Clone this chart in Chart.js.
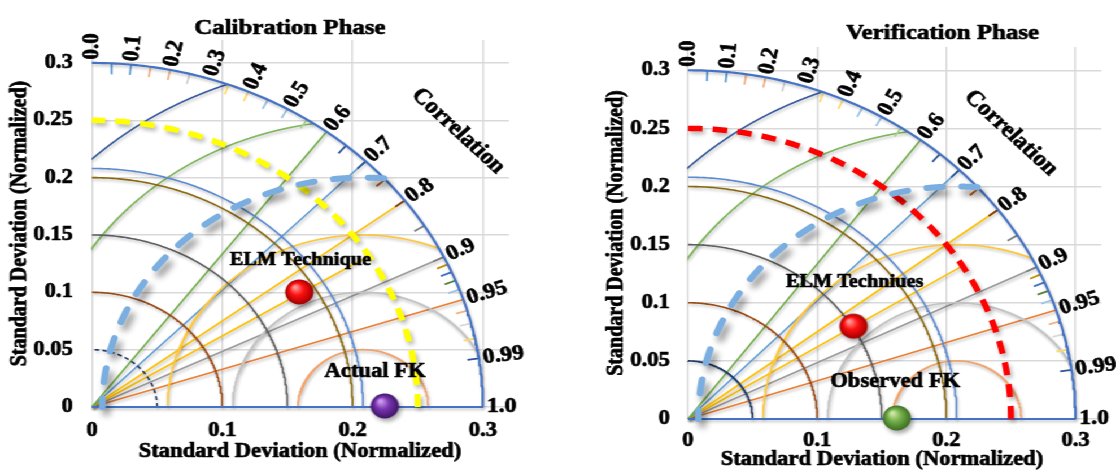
<!DOCTYPE html>
<html>
<head>
<meta charset="utf-8">
<script src="https://cdn.jsdelivr.net/npm/chart.js@4.4.1/dist/chart.umd.min.js"></script>
<style>
  html, body { margin: 0; padding: 0; background: #ffffff; overflow: hidden; }
  /* the two diagrams are drawn on a square data grid and widened together */
  #stage { position: absolute; left: 0; top: 0; width: 988px; height: 471px;
           transform: scaleX(1.1296); transform-origin: 0 0; }
  #stage canvas { position: absolute; top: 0; }
</style>
</head>
<body>
<div id="stage">
  <canvas id="cal" width="494" height="471" style="left:0px"></canvas>
  <canvas id="ver" width="494" height="471" style="left:494px"></canvas>
</div>
<script>
// ---------------- axis ticks ----------------
const xTickValues = [0, 0.1, 0.2, 0.3];
const xTickLabels = ['0', '0.1', '0.2', '0.3'];
const yTickValues = [0, 0.05, 0.1, 0.15, 0.2, 0.25, 0.3];
const yTickLabels = ['0', '0.05', '0.1', '0.15', '0.2', '0.25', '0.3'];
const axisMax = 0.32;

// ---------------- Taylor diagram frame ----------------
const outerStd = 0.3;                                   // outer standard-deviation arc
const stdArcRadii = [0.05, 0.1, 0.15, 0.2, 0.208];      // arcs about the origin
const referenceStd = 0.208;                             // centre of the centred-RMS arcs
const rmsRadii = [0.05, 0.1, 0.15, 0.2, 0.25, 0.3];     // centred RMS difference arcs
const skillArcRadius = 0.25;                            // bold dashed arc
const corrLineValues = [0.6, 0.7, 0.8, 0.85, 0.9, 0.95];
const corrLineReach = [0.3, 0.3, 0.3, 0.25, 0.3, 0.3];
const corrLabelValues = [0, 0.1, 0.2, 0.3, 0.4, 0.5, 0.6, 0.7, 0.8, 0.9, 0.95, 0.99, 1.0];
const corrLabelTexts = ['0.0', '0.1', '0.2', '0.3', '0.4', '0.5', '0.6', '0.7', '0.8', '0.9', '0.95', '0.99', '1.0'];
const corrTickValues = [0.05, 0.1, 0.15, 0.2, 0.25, 0.35, 0.4, 0.45, 0.5, 0.55, 0.65, 0.7, 0.75,
                        0.8, 0.85, 0.9, 0.91, 0.92, 0.93, 0.94, 0.96, 0.97, 0.98, 0.99, 1.0];

// ---------------- Calibration phase ----------------
const calCategories = ['ELM Technique', 'Actual FK'];
const calPointX = [0.16, 0.2255];
const calPointY = [0.0994, 0];

// ---------------- Verification phase ----------------
const verCategories = ['ELM Techniues', 'Observed FK'];
const verPointX = [0.129, 0.1625];
const verPointY = [0.079, 0];

// ---------------- styles ----------------
const SERIF = '"Liberation Serif", "Times New Roman", serif';
const stdArcColors = ['#203864', '#9c4a14', '#5f5f5f', '#8a680c', '#5a8ad2'];
const rmsColors = ['#f2a46e', '#c3c3c3', '#ffc63a', '#7aaee0', '#7db65b', '#35599c'];
const corrLineColors = ['#70ad47', '#5b9bd5', '#ffc000', '#ffc000', '#9a9a9a', '#ed7d31'];
const corrTickColors = ['#5b9bd5', '#5b9bd5', '#f4b183', '#f4b183', '#d0d0d0', '#ffd966', '#ffd966',
                        '#9dc3e6', '#9dc3e6', '#a9d18e', '#2f5597', '#2f5597', '#c55a11', '#843c0c',
                        '#7f7f7f', '#7f7f7f', '#bf9000', '#4472c4', '#548235', '#9dc3e6', '#f4b183',
                        '#d9d9d9', '#ffd966', '#2f5597', '#375623'];
const thinShadow = { color: 'rgba(0,0,0,0.25)', blur: 3, dx: 1, dy: 2 };
const boldShadow = { color: 'rgba(0,0,0,0.45)', blur: 6, dx: 3.5, dy: 6 };
const dashShadow = { color: 'rgba(0,0,0,0.3)', blur: 4, dx: 2, dy: 3 };
const TEXT_STROKE = 0.7;

Chart.defaults.font.family = SERIF;
Chart.defaults.font.weight = 'bold';
Chart.defaults.color = '#000000';

// ---------------- geometry helpers ----------------
function quarterArc(r) {
  const pts = [];
  for (let k = 0; k <= 180; k++) {
    const a = (Math.PI / 2) * k / 180;
    pts.push({ x: r * Math.cos(a), y: r * Math.sin(a) });
  }
  return pts;
}
// arc about the reference point, kept inside the quarter disc of radius outerStd
function rmsArc(r) {
  const pts = [];
  const lim = outerStd * outerStd + 1e-9;
  for (let k = 0; k <= 1440; k++) {
    const a = Math.PI * k / 1440;
    const x = referenceStd + r * Math.cos(a), y = r * Math.sin(a);
    if (x >= -1e-9 && x * x + y * y <= lim) pts.push({ x: Math.max(x, 0), y });
  }
  return pts;
}
function radial(c, r0, r1) {
  const t = Math.acos(c);
  return [{ x: r0 * Math.cos(t), y: r0 * Math.sin(t) }, { x: r1 * Math.cos(t), y: r1 * Math.sin(t) }];
}
function makeSphere(light, base, dark) {
  const c = document.createElement('canvas');
  c.width = 38; c.height = 38;
  const g = c.getContext('2d');
  const cx = 18, cy = 18, R = 12.5;
  g.save();
  g.shadowColor = 'rgba(0,0,0,0.35)'; g.shadowBlur = 4; g.shadowOffsetX = 2; g.shadowOffsetY = 3;
  const grad = g.createRadialGradient(cx - 4, cy - 5, 1, cx, cy, R);
  grad.addColorStop(0, light); grad.addColorStop(0.45, base); grad.addColorStop(1, dark);
  g.fillStyle = grad;
  g.beginPath(); g.arc(cx, cy, R, 0, Math.PI * 2); g.fill();
  g.restore();
  return c;
}

// ---------------- panels ----------------
const panels = [
  {
    canvas: 'cal', title: 'Calibration Phase', categories: calCategories, px: calPointX, py: calPointY,
    spheres: [makeSphere('#ff9a9a', '#ff1010', '#a00000'), makeSphere('#cf9cf2', '#7a35b0', '#3e1566')],
    skillColor: '#ffff00', innerDash: [4, 3],
    layout: { padTop: 40, padRight: 43.4, yAxisWidth: 81.4, xAxisHeight: 64, xTickPad: 12, yTickPad: 17 },
    titlePos: [256.7, 28], xTitlePos: [265.6, 452], yTitleX: 17.7,
    corrWord: [0.281, 0.2406],
    labelOffsets: [[0, -33], [-9.5, -35]], labelSizes: [18, 20]
  },
  {
    canvas: 'ver', title: 'Verification Phase', categories: verCategories, px: verPointX, py: verPointY,
    spheres: [makeSphere('#ff9a9a', '#ff1010', '#a00000'), makeSphere('#cfe8a8', '#74b04a', '#3d6e22')],
    skillColor: '#ff0000', innerDash: [],
    layout: { padTop: 47, padRight: 6.2, yAxisWidth: 115.1, xAxisHeight: 52, xTickPad: 10, yTickPad: 16 },
    titlePos: [340.4, 33], xTitlePos: [286.8, 460], yTitleX: 51.8,
    corrWord: [0.250, 0.246],
    labelOffsets: [[0, -45], [-2.4, -37]], labelSizes: [18, 20]
  }
];

function buildDatasets(p) {
  const ds = [];
  const line = (pts, color, width, extra) => ds.push(Object.assign({
    data: pts, showLine: true, borderColor: color, borderWidth: width, pointRadius: 0,
    fill: false, tension: 0, clip: false, order: 6, shadow: thinShadow
  }, extra || {}));

  // arcs of equal standard deviation
  stdArcRadii.forEach((r, i) => line(quarterArc(r), stdArcColors[i], 1.6,
    { borderDash: i === 0 ? p.innerDash : [] }));

  // centred RMS arcs about the reference
  rmsRadii.forEach((r, i) => {
    if (r === 0.2) {
      line(rmsArc(r), rmsColors[i], 6, { borderDash: [14, 17], borderCapStyle: 'round', order: 2, shadow: boldShadow });
    } else {
      line(rmsArc(r), rmsColors[i], 1.6);
    }
  });

  // correlation rays
  corrLineValues.forEach((c, i) => line(radial(c, 0, corrLineReach[i]), corrLineColors[i], 1.6));

  // small marks on the correlation scale
  corrTickValues.forEach((c, i) => line(radial(c, outerStd - 0.009, outerStd), corrTickColors[i], 1.8,
    { order: 5, shadow: null }));

  // outer arc and base line
  line(quarterArc(outerStd), '#4472c4', 2.2, { order: 4 });
  line([{ x: 0, y: 0 }, { x: outerStd, y: 0 }], '#4472c4', 2.2, { order: 4 });

  // bold dashed arc
  line(quarterArc(skillArcRadius), p.skillColor, 5.5, { borderDash: [13, 9], order: 3, shadow: dashShadow });

  // model and reference points
  p.px.forEach((x, i) => ds.push({
    data: [{ x, y: p.py[i] }], showLine: false, pointStyle: p.spheres[i], pointRadius: 12,
    clip: false, order: 0
  }));
  return ds;
}

const shadowPlugin = {
  id: 'lineShadow',
  beforeDatasetDraw(chart, args) {
    const sh = chart.data.datasets[args.index].shadow;
    chart.ctx.save();
    if (sh) {
      chart.ctx.shadowColor = sh.color; chart.ctx.shadowBlur = sh.blur;
      chart.ctx.shadowOffsetX = sh.dx; chart.ctx.shadowOffsetY = sh.dy;
    }
  },
  afterDatasetDraw(chart) { chart.ctx.restore(); }
};

function boldText(ctx, text, x, y) {
  ctx.strokeText(text, x, y);
  ctx.fillText(text, x, y);
}

function textPlugin(p) {
  return {
    id: 'diagramText',
    afterDatasetsDraw(chart) {
      const { ctx, chartArea, scales: { x, y } } = chart;
      const X = v => x.getPixelForValue(v), Y = v => y.getPixelForValue(v);
      const ox = X(0), oy = Y(0);
      ctx.save();
      ctx.fillStyle = '#000000';
      ctx.strokeStyle = '#000000';
      ctx.lineWidth = TEXT_STROKE;
      ctx.lineJoin = 'round';

      // correlation scale labels, written outward along each ray
      ctx.font = `bold 21px ${SERIF}`;
      ctx.textAlign = 'left'; ctx.textBaseline = 'middle';
      const labelR = outerStd + 0.003;
      corrLabelValues.forEach((c, i) => {
        const t = Math.acos(c);
        const lx = X(labelR * Math.cos(t)), ly = Y(labelR * Math.sin(t));
        const ang = Math.atan2(oy - ly, lx - ox);
        ctx.save(); ctx.translate(lx, ly); ctx.rotate(-ang);
        boldText(ctx, corrLabelTexts[i], 0, 0);
        ctx.restore();
      });

      // scale name
      ctx.font = `bold 22px ${SERIF}`;
      ctx.textAlign = 'center';
      ctx.save(); ctx.translate(X(p.corrWord[0]), Y(p.corrWord[1])); ctx.rotate(46 * Math.PI / 180);
      boldText(ctx, 'Correlation', 0, 0);
      ctx.restore();

      // point names
      p.categories.forEach((name, i) => {
        ctx.font = `bold ${p.labelSizes[i]}px ${SERIF}`;
        boldText(ctx, name, X(p.px[i]) + p.labelOffsets[i][0], Y(p.py[i]) + p.labelOffsets[i][1]);
      });

      // panel title
      ctx.font = `bold 22px ${SERIF}`;
      boldText(ctx, p.title, p.titlePos[0], p.titlePos[1]);

      // axis titles
      ctx.font = `bold 20px ${SERIF}`;
      boldText(ctx, 'Standard Deviation (Normalized)', p.xTitlePos[0], p.xTitlePos[1]);
      ctx.save(); ctx.translate(p.yTitleX, (chartArea.top + chartArea.bottom) / 2); ctx.rotate(-Math.PI / 2);
      boldText(ctx, 'Standard Deviation (Normalized)', 0, 0);
      ctx.restore();

      ctx.restore();
    }
  };
}

panels.forEach(p => {
  const L = p.layout;
  new Chart(document.getElementById(p.canvas), {
    type: 'scatter',
    data: { datasets: buildDatasets(p) },
    options: {
      responsive: false, animation: false, events: [],
      layout: { padding: { top: L.padTop, right: L.padRight, left: 0, bottom: 0 } },
      plugins: { legend: { display: false }, tooltip: { enabled: false }, title: { display: false } },
      scales: {
        x: {
          type: 'linear', min: 0, max: axisMax,
          afterBuildTicks: s => { s.ticks = xTickValues.map(v => ({ value: v })); },
          afterFit: s => { s.height = L.xAxisHeight; },
          ticks: {
            autoSkip: false, maxRotation: 0, padding: L.xTickPad,
            font: { size: 20, weight: 'bold' }, color: '#000000',
            textStrokeColor: '#000000', textStrokeWidth: TEXT_STROKE,
            callback: v => xTickLabels[xTickValues.indexOf(v)]
          },
          grid: { color: '#d9d9d9', lineWidth: 1.5, drawTicks: false },
          border: { display: false }
        },
        y: {
          type: 'linear', min: 0, max: axisMax,
          afterBuildTicks: s => { s.ticks = yTickValues.map(v => ({ value: v })); },
          afterFit: s => { s.width = L.yAxisWidth; },
          ticks: {
            autoSkip: false, padding: L.yTickPad,
            font: { size: 20, weight: 'bold' }, color: '#000000',
            textStrokeColor: '#000000', textStrokeWidth: TEXT_STROKE,
            callback: v => yTickLabels[yTickValues.indexOf(v)]
          },
          grid: { color: '#d9d9d9', lineWidth: 1.5, drawTicks: false },
          border: { display: false }
        }
      }
    },
    plugins: [shadowPlugin, textPlugin(p)]
  });
});
</script>
</body>
</html>
